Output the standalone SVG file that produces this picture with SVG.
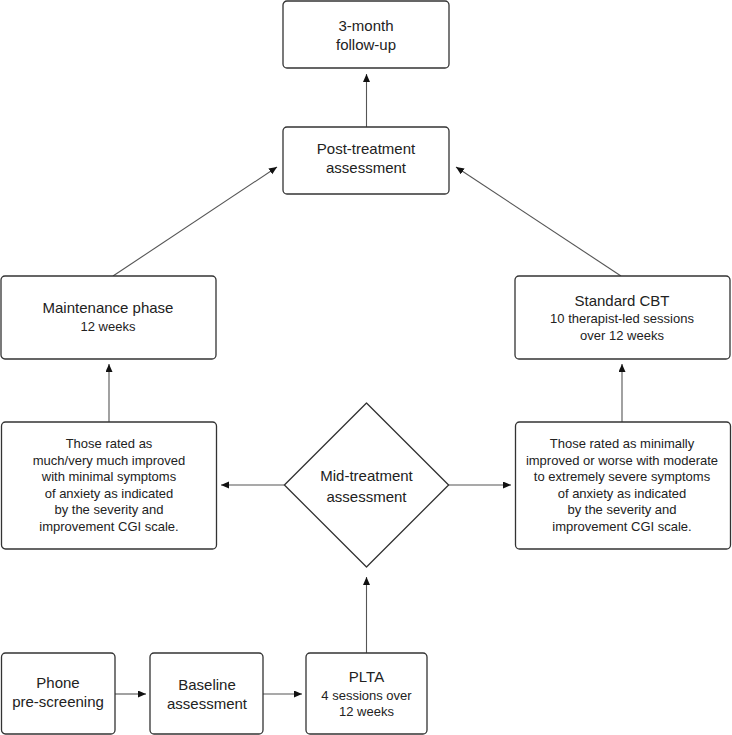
<svg xmlns="http://www.w3.org/2000/svg" width="732" height="735" viewBox="0 0 732 735">
<style>
.box{fill:#fff;stroke:#333;stroke-width:1.3}
.h{font-family:"Liberation Sans",Arial,sans-serif;font-size:15px;fill:#222;text-anchor:middle}
.s{font-family:"Liberation Sans",Arial,sans-serif;font-size:13px;fill:#222;text-anchor:middle}
.c{stroke:#555;stroke-width:1.1;fill:none;marker-end:url(#ah)}
</style>
<defs>
<marker id="ah" markerUnits="userSpaceOnUse" markerWidth="9" markerHeight="8" refX="8" refY="3.5" orient="auto">
<path d="M0,0 L8,3.5 L0,7 z" fill="#111"/>
</marker>
</defs>
<rect width="732" height="735" fill="#fff"/>
<g id="connectors">
<line class="c" x1="366.5" y1="127" x2="366.5" y2="74"/>
<line class="c" x1="113" y1="276" x2="277" y2="167"/>
<line class="c" x1="621" y1="276" x2="456" y2="167"/>
<line class="c" x1="109" y1="422" x2="109" y2="364"/>
<line class="c" x1="622" y1="422" x2="622" y2="364"/>
<line class="c" x1="284" y1="485" x2="221" y2="485"/>
<line class="c" x1="448.6" y1="485" x2="511" y2="485"/>
<line class="c" x1="366.5" y1="653" x2="366.5" y2="577"/>
<line class="c" x1="115" y1="694" x2="146" y2="694"/>
<line class="c" x1="263" y1="694" x2="302" y2="694"/>
</g>
<g id="followup">
<rect class="box" x="283" y="1" width="166" height="67" rx="4"/>
<text class="h" x="366" y="31">3-month</text>
<text class="h" x="366" y="50">follow-up</text>
</g>
<g id="post">
<rect class="box" x="283" y="127" width="166" height="67" rx="4"/>
<text class="h" x="366" y="153.5">Post-treatment</text>
<text class="h" x="366" y="172.5">assessment</text>
</g>
<g id="maintenance">
<rect class="box" x="1" y="276" width="215" height="83" rx="4"/>
<text class="h" x="108" y="313">Maintenance phase</text>
<text class="s" x="108" y="330.6">12 weeks</text>
</g>
<g id="cbt">
<rect class="box" x="515" y="276" width="215" height="83" rx="4"/>
<text class="h" x="622" y="306">Standard CBT</text>
<text class="s" x="622" y="322.6">10 therapist-led sessions</text>
<text class="s" x="622" y="339.6">over 12 weeks</text>
</g>
<g id="improved">
<rect class="box" x="1.5" y="422" width="215" height="127" rx="4"/>
<text class="s" x="109" y="448">Those rated as</text>
<text class="s" x="109" y="464.6">much/very much improved</text>
<text class="s" x="109" y="481.2">with minimal symptoms</text>
<text class="s" x="109" y="497.6">of anxiety as indicated</text>
<text class="s" x="109" y="514.2">by the severity and</text>
<text class="s" x="109" y="530.8">improvement CGI scale.</text>
</g>
<g id="notimproved">
<rect class="box" x="515.5" y="422" width="215" height="127" rx="4"/>
<text class="s" x="622" y="448">Those rated as minimally</text>
<text class="s" x="622" y="464.6">improved or worse with moderate</text>
<text class="s" x="622" y="481.2">to extremely severe symptoms</text>
<text class="s" x="622" y="497.6">of anxiety as indicated</text>
<text class="s" x="622" y="514.2">by the severity and</text>
<text class="s" x="622" y="530.8">improvement CGI scale.</text>
</g>
<g id="mid">
<path class="box" d="M366.5,403 L448.6,485 L366.5,567 L284.4,485 Z" stroke-linejoin="round"/>
<text class="h" x="366.5" y="481">Mid-treatment</text>
<text class="h" x="366.5" y="501.6">assessment</text>
</g>
<g id="phone">
<rect class="box" x="1.5" y="653" width="113.5" height="81" rx="4"/>
<text class="h" x="58" y="688.3">Phone</text>
<text class="h" x="58" y="707.3">pre-screening</text>
</g>
<g id="baseline">
<rect class="box" x="150" y="653" width="113" height="81" rx="4"/>
<text class="h" x="207" y="690">Baseline</text>
<text class="h" x="207" y="708.6">assessment</text>
</g>
<g id="plta">
<rect class="box" x="306" y="653" width="121" height="81" rx="4"/>
<text class="h" x="366.5" y="682">PLTA</text>
<text class="s" x="366.5" y="700">4 sessions over</text>
<text class="s" x="366.5" y="716.3">12 weeks</text>
</g>
</svg>
